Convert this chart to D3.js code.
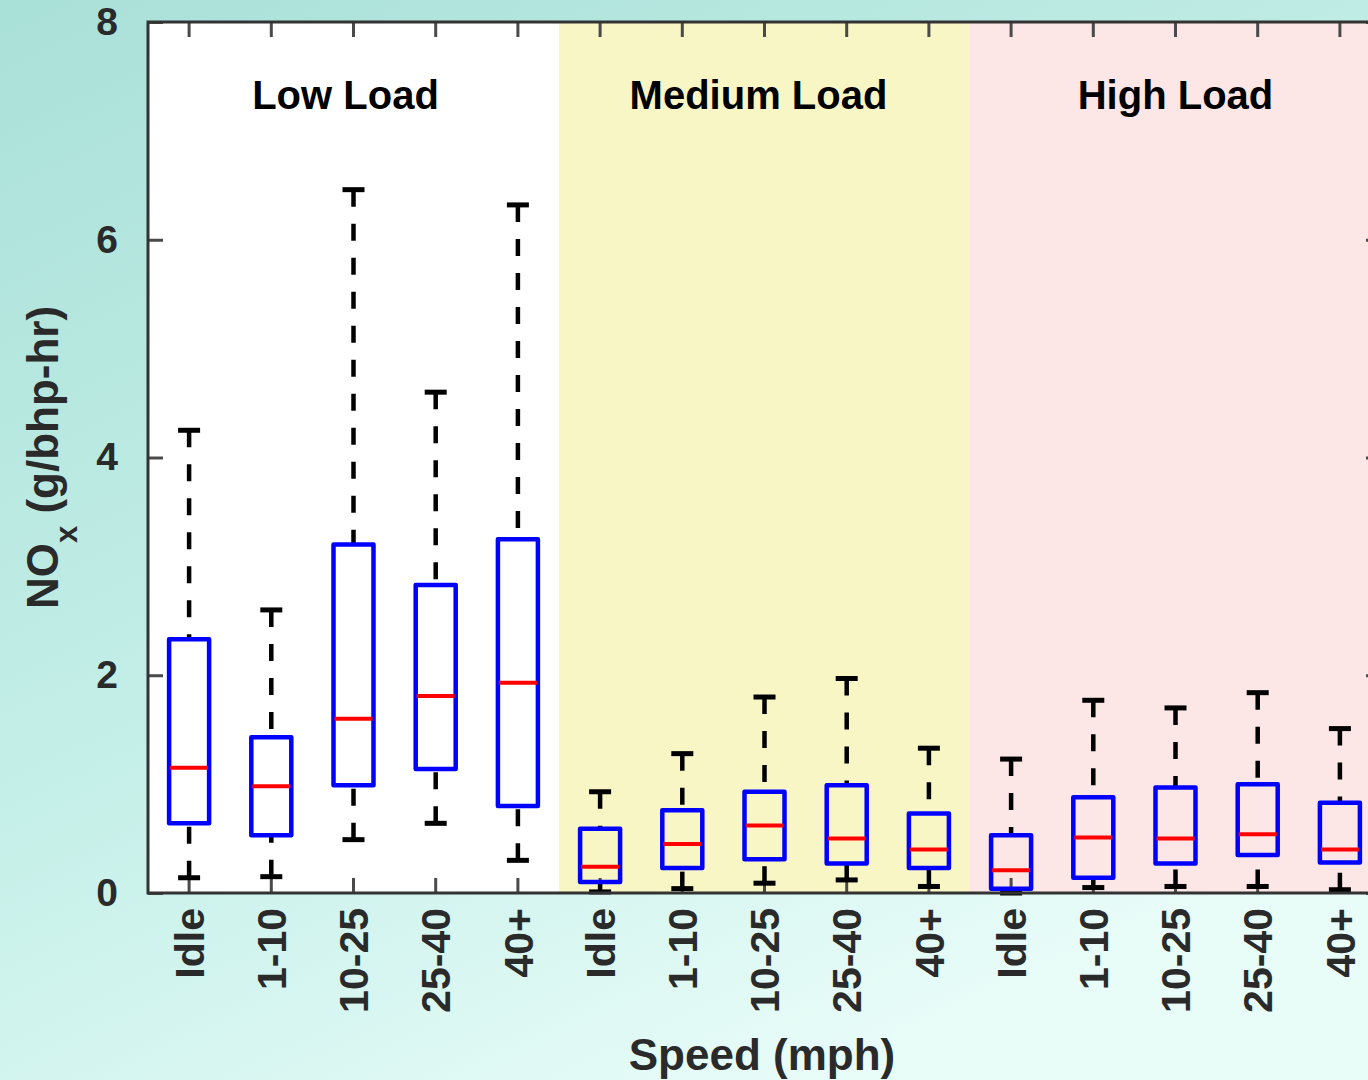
<!DOCTYPE html>
<html>
<head>
<meta charset="utf-8">
<script src="https://cdn.jsdelivr.net/npm/d3@7/dist/d3.min.js"></script>
<style>
  body { margin: 0; overflow: hidden; }
  text { font-family: "Liberation Sans", Arial, sans-serif; font-weight: bold; }
</style>
</head>
<body>
<script>
var width = 1368;
var height = 1080;

// speed bins repeat once per load group
var speeds = ["Idle", "1-10", "10-25", "25-40", "40+"];
var loads = ["Low Load", "Medium Load", "High Load"];
var loadColors = ["#ffffff", "#f8f6c4", "#fce6e6"];
var yTicks = [0, 2, 4, 6, 8];

// box stats, low load first, then medium, then high
var whiskerHi = [4.25, 2.60, 6.46, 4.60, 6.32, 0.93, 1.28, 1.80, 1.97, 1.33, 1.23, 1.77, 1.70, 1.84, 1.51];
var q3 = [2.33, 1.43, 3.20, 2.83, 3.25, 0.59, 0.76, 0.93, 0.99, 0.73, 0.53, 0.88, 0.97, 1.00, 0.83];
var medians = [1.15, 0.98, 1.60, 1.81, 1.93, 0.24, 0.45, 0.62, 0.50, 0.40, 0.21, 0.51, 0.50, 0.54, 0.40];
var q1 = [0.64, 0.53, 0.99, 1.14, 0.80, 0.10, 0.23, 0.31, 0.27, 0.23, 0.04, 0.14, 0.27, 0.35, 0.28];
var whiskerLo = [0.14, 0.15, 0.49, 0.64, 0.30, 0.01, 0.04, 0.09, 0.12, 0.06, 0.00, 0.05, 0.06, 0.06, 0.03];

// plot frame (right edge runs past the window)
var plotLeft = 148, plotTop = 22, plotRight = 1381, plotBottom = 893;

var svg = d3.select("body").append("svg").attr("width", width).attr("height", height);

// teal slide background
var grad = svg.append("defs").append("linearGradient").attr("id", "bg")
  .attr("x1", 0).attr("y1", 0).attr("x2", 0.6).attr("y2", 1);
grad.append("stop").attr("offset", 0).attr("stop-color", "#a9e0d8");
grad.append("stop").attr("offset", 0.55).attr("stop-color", "#c4efe8");
grad.append("stop").attr("offset", 1).attr("stop-color", "#e8fcf8");
svg.append("rect").attr("width", width).attr("height", height).attr("fill", "url(#bg)");

var labels = d3.range(15).map(function(i) { return speeds[i % 5]; });

var x = d3.scaleBand().domain(d3.range(15)).range([plotLeft, plotRight]).padding(0);
var y = d3.scaleLinear().domain([0, 8]).range([plotBottom, plotTop]);
var cx = function(i) { return x(i) + x.bandwidth() / 2; };

// shaded load groups
svg.selectAll("rect.load").data(loads).enter().append("rect")
  .attr("class", "load")
  .attr("x", function(d, i) { return x(i * 5); })
  .attr("y", plotTop)
  .attr("width", x.bandwidth() * 5)
  .attr("height", plotBottom - plotTop)
  .attr("fill", function(d, i) { return loadColors[i]; });

var labelShift = [-8, -6, 0];
svg.selectAll("text.load").data(loads).enter().append("text")
  .attr("class", "load")
  .attr("x", function(d, i) { return cx(i * 5 + 2) + labelShift[i]; })
  .attr("y", 109)
  .attr("text-anchor", "middle")
  .attr("font-size", 40)
  .attr("fill", "#000")
  .text(function(d) { return d; });

// axes, ticks point inward
var styleAxis = function(g) {
  g.select(".domain").remove();
  g.selectAll(".tick line").attr("stroke", "#4a4a4a").attr("stroke-width", 3);
  g.selectAll(".tick text").attr("font-size", 39).attr("fill", "#2a2a2a")
    .style("font-family", "'Liberation Sans', Arial, sans-serif").style("font-weight", "bold");
};

svg.append("g").attr("transform", "translate(" + plotLeft + ",0)")
  .call(d3.axisLeft(y).tickValues(yTicks).tickSizeInner(-15).tickSizeOuter(0).tickPadding(30))
  .call(styleAxis);

svg.append("g").attr("transform", "translate(" + plotRight + ",0)")
  .call(d3.axisRight(y).tickValues(yTicks).tickSizeInner(-15).tickSizeOuter(0).tickFormat(""))
  .call(styleAxis);

svg.append("g").attr("transform", "translate(0," + plotTop + ")")
  .call(d3.axisTop(x).tickSizeInner(-15).tickSizeOuter(0).tickFormat(""))
  .call(styleAxis);

var xAxis = svg.append("g").attr("transform", "translate(0," + plotBottom + ")")
  .call(d3.axisBottom(x).tickSizeInner(-15).tickSizeOuter(0).tickFormat(function(i) { return labels[i]; }))
  .call(styleAxis);
xAxis.selectAll(".tick text")
  .attr("font-size", 41)
  .attr("transform", "rotate(-90)")
  .attr("x", -15).attr("y", 0).attr("dy", "0.36em")
  .style("text-anchor", "end");

// whiskers: dashed from cap to box
var boxW = 40, capW = 22;
var whisk = svg.append("g");
d3.range(15).forEach(function(i) {
  whisk.append("line")
    .attr("x1", cx(i)).attr("x2", cx(i))
    .attr("y1", y(whiskerHi[i])).attr("y2", y(q3[i]))
    .attr("stroke", "#000").attr("stroke-width", 4.5).attr("stroke-dasharray", "17,17");
  whisk.append("line")
    .attr("x1", cx(i)).attr("x2", cx(i))
    .attr("y1", y(whiskerLo[i])).attr("y2", y(q1[i]))
    .attr("stroke", "#000").attr("stroke-width", 4.5).attr("stroke-dasharray", "17,17");
  [whiskerHi[i], whiskerLo[i]].forEach(function(v) {
    whisk.append("line")
      .attr("x1", cx(i) - capW / 2).attr("x2", cx(i) + capW / 2)
      .attr("y1", y(v)).attr("y2", y(v))
      .attr("stroke", "#000").attr("stroke-width", 5);
  });
});

// boxes
svg.selectAll("rect.box").data(d3.range(15)).enter().append("rect")
  .attr("class", "box")
  .attr("x", function(i) { return cx(i) - boxW / 2; })
  .attr("y", function(i) { return y(q3[i]); })
  .attr("width", boxW)
  .attr("height", function(i) { return y(q1[i]) - y(q3[i]); })
  .attr("fill", "none")
  .attr("stroke", "#0000ff").attr("stroke-width", 4.5).attr("stroke-linejoin", "round");

svg.selectAll("line.median").data(d3.range(15)).enter().append("line")
  .attr("class", "median")
  .attr("x1", function(i) { return cx(i) - boxW / 2 + 1; })
  .attr("x2", function(i) { return cx(i) + boxW / 2 - 1; })
  .attr("y1", function(i) { return y(medians[i]); })
  .attr("y2", function(i) { return y(medians[i]); })
  .attr("stroke", "#ff0000").attr("stroke-width", 4);

// frame
svg.append("rect").attr("x", plotLeft).attr("y", plotTop)
  .attr("width", plotRight - plotLeft).attr("height", plotBottom - plotTop)
  .attr("fill", "none").attr("stroke", "#333").attr("stroke-width", 3);

// axis titles
svg.append("text")
  .attr("x", 762).attr("y", 1070)
  .attr("text-anchor", "middle")
  .attr("font-size", 44).attr("fill", "#2a2a2a")
  .text("Speed (mph)");

var yl = svg.append("text")
  .attr("transform", "translate(58," + ((plotTop + plotBottom) / 2) + ") rotate(-90)")
  .attr("text-anchor", "middle")
  .attr("font-size", 44).attr("fill", "#2a2a2a");
yl.append("tspan").text("NO");
yl.append("tspan").attr("font-size", 31).attr("dy", 19).text("x");
yl.append("tspan").attr("dy", -19).text(" (g/bhp-hr)");
</script>
</body>
</html>
